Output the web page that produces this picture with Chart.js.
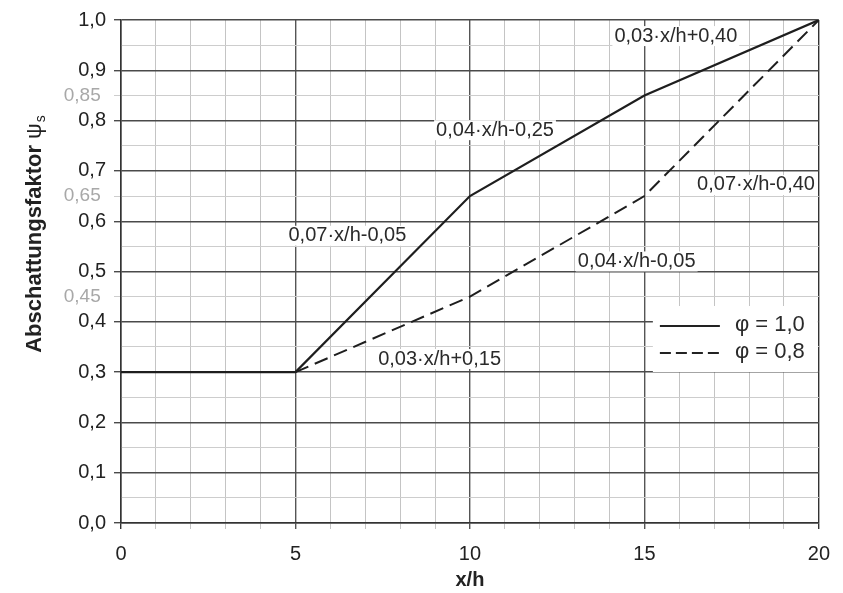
<!DOCTYPE html>
<html><head><meta charset="utf-8">
<script src="https://cdn.jsdelivr.net/npm/chart.js@4/dist/chart.umd.min.js"></script>
<style>html,body{margin:0;padding:0;background:#fff}#wrap{width:843px;height:593px}</style>
</head><body><div id="wrap"><canvas id="c" width="843" height="593"></canvas></div>
<script>
// ---- data ----
const seriesNames = ['φ = 1,0', 'φ = 0,8'];
const xSolid  = [0, 5, 10, 15, 20];
const ySolid  = [0.30, 0.30, 0.65, 0.85, 1.00];
const xDashed = [5, 10, 15, 20];
const yDashed = [0.30, 0.45, 0.65, 1.00];
const xTickValues = [0, 5, 10, 15, 20];
const yMarkedValues = [0.45, 0.65, 0.85];
const xTitle = 'x/h';
const yTitle = 'Abschattungsfaktor ';
const yTitlePsi = 'ψ';
const yTitleSub = 's';
const annoTexts = ['0,03·x/h+0,40', '0,04·x/h-0,25', '0,07·x/h-0,40', '0,07·x/h-0,05', '0,04·x/h-0,05', '0,03·x/h+0,15'];
const annoX = [14.14, 9.03, 16.51, 4.80, 13.09, 7.37];
const annoY = [0.968, 0.781, 0.672, 0.571, 0.520, 0.326];

const FONT = '"Liberation Sans", Arial, sans-serif';
const tv = c => (c && c.tick) ? c.tick.value : 0;
const k100 = v => Math.round(v * 100);
const isMajorY = v => k100(v) % 10 === 0;
const isMarkedY = v => yMarkedValues.some(m => k100(m) === k100(v));
const fmt = (v, d) => v.toFixed(d).replace('.', ',');

const extras = {
  id: 'extras',
  beforeDatasetsDraw(chart) {
    const ctx = chart.ctx, a = chart.chartArea, xs = chart.scales.x, ys = chart.scales.y;
    ctx.save();
    ctx.fillStyle = '#fff';
    ctx.fillRect(a.right - 166, a.top + 286, 165, 66);
    ctx.font = '20px ' + FONT;
    annoTexts.forEach((t, i) => {
      const px = xs.getPixelForValue(annoX[i]), py = ys.getPixelForValue(annoY[i]);
      const w = ctx.measureText(t).width;
      ctx.fillRect(px - 2, py - 10, w + 4, 20);
    });
    ctx.restore();
  },
  afterDatasetsDraw(chart) {
    const ctx = chart.ctx, a = chart.chartArea, xs = chart.scales.x, ys = chart.scales.y;
    ctx.save();
    ctx.font = '20px ' + FONT;
    ctx.fillStyle = '#2a2a2a';
    ctx.textAlign = 'left';
    ctx.textBaseline = 'middle';
    annoTexts.forEach((t, i) => {
      ctx.fillText(t, xs.getPixelForValue(annoX[i]), ys.getPixelForValue(annoY[i]));
    });
    const lx = a.right - 159, ly1 = a.top + 306, ly2 = a.top + 333;
    ctx.strokeStyle = '#222';
    ctx.lineWidth = 2;
    ctx.beginPath(); ctx.moveTo(lx, ly1); ctx.lineTo(lx + 60, ly1); ctx.stroke();
    ctx.setLineDash([11, 5]);
    ctx.beginPath(); ctx.moveTo(lx, ly2); ctx.lineTo(lx + 60, ly2); ctx.stroke();
    ctx.setLineDash([]);
    ctx.font = '22px ' + FONT;
    ctx.fillText(seriesNames[0], lx + 75, ly1 - 1);
    ctx.fillText(seriesNames[1], lx + 75, ly2 - 1);
    // x title
    ctx.fillStyle = '#222';
    ctx.font = 'bold 20px ' + FONT;
    ctx.textAlign = 'center';
    ctx.fillText(xTitle, (a.left + a.right) / 2, 580);
    // y title rotated, with psi and subscript
    ctx.translate(35, 234);
    ctx.rotate(-Math.PI / 2);
    const f1 = 'bold 22px ' + FONT, f2 = '22px ' + FONT, f3 = '14px ' + FONT;
    ctx.font = f1; const w1 = ctx.measureText(yTitle).width;
    ctx.font = f2; const w2 = ctx.measureText(yTitlePsi).width;
    ctx.font = f3; const w3 = ctx.measureText(yTitleSub).width;
    const start = -(w1 + w2 + w3 + 1) / 2;
    ctx.textAlign = 'left';
    ctx.font = f1; ctx.fillText(yTitle, start, 0);
    ctx.font = f2; ctx.fillText(yTitlePsi, start + w1, 0);
    ctx.font = f3; ctx.fillText(yTitleSub, start + w1 + w2 + 1, 6);
    ctx.restore();
  }
};

new Chart(document.getElementById('c'), {
  type: 'scatter',
  data: {
    datasets: [
      { label: seriesNames[0], data: xSolid.map((x, i) => ({ x, y: ySolid[i] })),
        showLine: true, borderColor: '#1e1e1e', borderWidth: 2.2, pointRadius: 0, fill: false, tension: 0 },
      { label: seriesNames[1], data: xDashed.map((x, i) => ({ x, y: yDashed[i] })),
        showLine: true, borderColor: '#1e1e1e', borderWidth: 2, borderDash: [14, 7], pointRadius: 0, fill: false, tension: 0 }
    ]
  },
  options: {
    responsive: false,
    animation: false,
    devicePixelRatio: 1,
    layout: { padding: { left: 0, top: 17, right: 22, bottom: 0 } },
    plugins: { legend: { display: false }, tooltip: { enabled: false } },
    scales: {
      x: {
        type: 'linear', min: 0, max: 20,
        afterFit: s => { s.height = 70; },
        ticks: {
          stepSize: 1, autoSkip: false, maxRotation: 0, padding: 13,
          callback: v => xTickValues.includes(v) ? String(v) : '',
          color: '#222', font: { family: FONT, size: 20 }
        },
        grid: {
          color: c => { const v = tv(c); return (v === 0 || v === 20) ? '#333' : (v % 5 === 0 ? '#555' : '#c4c4c4'); },
          lineWidth: c => (tv(c) % 5 === 0 ? 1.4 : 1),
          tickLength: 6
        },
        border: { color: '#333', width: 1.5 }
      },
      y: {
        type: 'linear', min: 0, max: 1,
        afterFit: s => { s.width = 121; },
        ticks: {
          stepSize: 0.05, autoSkip: false, padding: 8,
          callback: v => isMajorY(v) ? fmt(v, 1) : (isMarkedY(v) ? fmt(v, 2) + ' ' : ''),
          color: c => isMajorY(tv(c)) ? '#222' : '#a8a8a8',
          font: c => ({ family: FONT, size: isMajorY(tv(c)) ? 20 : 19 })
        },
        grid: {
          color: c => isMajorY(tv(c)) ? '#4a4a4a' : '#cdcdcd',
          lineWidth: c => isMajorY(tv(c)) ? 1.4 : 1,
          tickColor: c => isMajorY(tv(c)) ? '#4a4a4a' : (isMarkedY(tv(c)) ? '#cdcdcd' : 'rgba(0,0,0,0)'),
          tickLength: 7
        },
        border: { color: '#333', width: 1.5 }
      }
    }
  },
  plugins: [extras]
});
</script></body></html>
